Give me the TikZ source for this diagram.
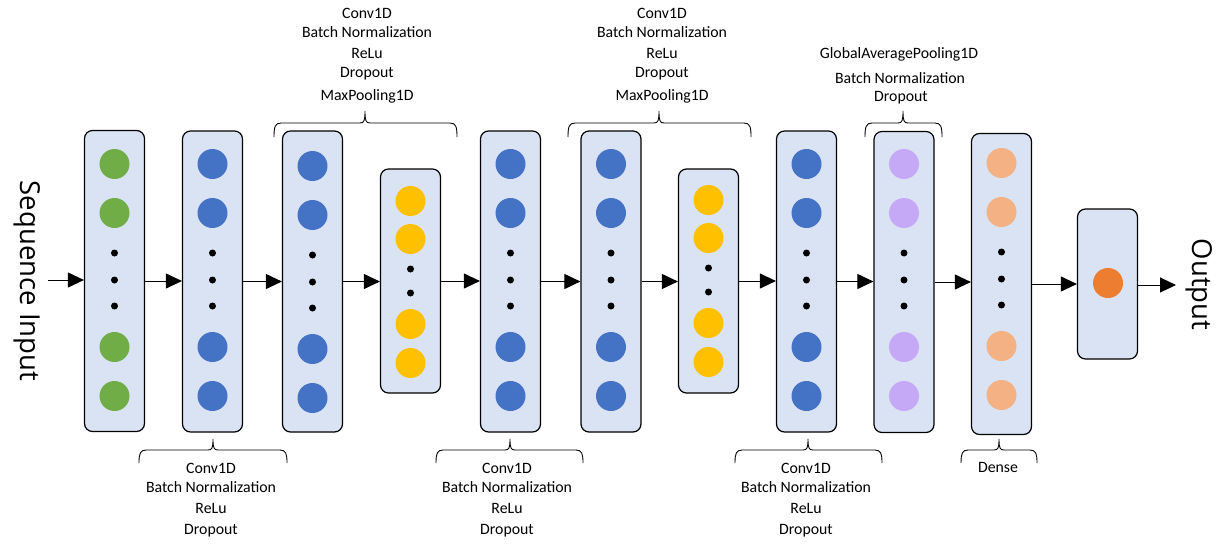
\documentclass[tikz,border=0pt]{standalone}
\usepackage{fontspec}
\setmainfont{Carlito}
\newfontfamily\bigfont{Open Sans}
\usetikzlibrary{arrows.meta,calc}
\definecolor{boxfill}{HTML}{DAE3F3}
\definecolor{cgreen}{HTML}{70AD47}
\definecolor{cblue}{HTML}{4472C4}
\definecolor{cyellow}{HTML}{FFC000}
\definecolor{cpurple}{HTML}{C5A9F6}
\definecolor{cpeach}{HTML}{F4B183}
\definecolor{corange}{HTML}{ED7D31}
\tikzset{
  layer/.style={draw=black, line width=1.2pt, fill=boxfill, rounded corners=8pt, minimum width=60pt, inner sep=0pt},
  neuron/.style={circle, minimum size=30pt, inner sep=0pt, draw=none},
  dotn/.style={circle, fill=black, minimum size=7pt, inner sep=0pt},
  arr/.style={-{Triangle[length=16pt,width=15pt]}, line width=1pt},
  brc/.style={line width=0.9pt},
  lbl/.style={anchor=base, inner sep=0pt, font=\fontsize{15.8}{18}\selectfont},
  bigl/.style={inner sep=0pt, rotate=-90, font=\bigfont\fontsize{27.5}{32}\selectfont}
}
\newcommand\biglayer[5]{%
  \node[layer, minimum height=301pt] (#1) at (#2,#3) {};
  \foreach \yy [count=\k] in {164,213,347,396} \node[neuron, fill=#4] (#1n\k) at (#2,\yy+#5) {};
  \foreach \yy [count=\k] in {253,280,306} \node[dotn] (#1d\k) at (#2,\yy+#5) {};
}
\newcommand\poollayer[4]{%
  \node[layer, minimum height=224pt] (#1) at (#2,281) {};
  \foreach \yy [count=\k] in {201,239,324,363} \node[neuron, fill=#3] (#1n\k) at (#2,\yy+#4) {};
  \foreach \yy [count=\k] in {269,293} \node[dotn] (#1d\k) at (#2,\yy+#4) {};
}
\newcommand\bracetop[3]{\draw[brc] (#1,137) .. controls (#1,127) and (#1+1,123) .. (#1+7,123) -- (#2-5,123) .. controls (#2-1,123) and (#2,121) .. (#2,111) .. controls (#2,121) and (#2+1,123) .. (#2+5,123) -- (#3-7,123) .. controls (#3-1,123) and (#3,127) .. (#3,137);}
\newcommand\bracebot[3]{\draw[brc] (#1,463) .. controls (#1,454) and (#1+1,450) .. (#1+7,450) -- (#2-5,450) .. controls (#2-1,450) and (#2,448) .. (#2,439) .. controls (#2,448) and (#2+1,450) .. (#2+5,450) -- (#3-7,450) .. controls (#3-1,450) and (#3,454) .. (#3,463);}
\begin{document}
\begin{tikzpicture}[x=1pt,y=-1pt]
\fill[white] (0,0) rectangle (1221,557);
\useasboundingbox (0,0) rectangle (1221,557);

% layers
\biglayer{B1}{114.5}{281}{cgreen}{0}
\biglayer{B2}{212.5}{281.5}{cblue}{0}
\biglayer{B3}{312.5}{281.5}{cblue}{2}
\poollayer{B4}{410.5}{cyellow}{0}
\biglayer{B5}{510.5}{281.5}{cblue}{0}
\biglayer{B6}{611}{281.5}{cblue}{0}
\poollayer{B7}{708.5}{cyellow}{-1}
\biglayer{B8}{806.5}{281.5}{cblue}{0}
\biglayer{B9}{904}{282}{cpurple}{0}
\biglayer{B10}{1001.5}{284}{cpeach}{-1}
\node[layer, minimum height=150pt] (B11) at (1107.5,284) {};
\node[neuron, fill=corange] (B11n) at (1108,283) {};

% side labels
\node[bigl] (seq) at (27.5,281) {Sequence Input};
\node[bigl] (outl) at (1199,284.5) {Output};

% arrows
\coordinate (in) at (48,280);
\coordinate (out) at (1176,285);
\draw[arr] (in) -- (in -| B1.west);
\draw[arr] (B1.east) -- (B1.east -| B2.west);
\draw[arr] (B2.east) -- (B2.east -| B3.west);
\draw[arr] (B3.east) -- (B3.east -| B4.west);
\draw[arr] (B4.east) -- (B4.east -| B5.west);
\draw[arr] (B5.east) -- (B5.east -| B6.west);
\draw[arr] (B6.east) -- (B6.east -| B7.west);
\draw[arr] (B7.east) -- (B7.east -| B8.west);
\draw[arr] (B8.east) -- (B8.east -| B9.west);
\draw[arr] (B9.east) -- (B9.east -| B10.west);
\draw[arr] (B10.east) -- (B10.east -| B11.west);
\draw[arr] (B11.east |- out) -- (out);

% braces
\bracetop{274}{365}{457}
\bracetop{568}{659}{751}
\bracetop{865}{903}{942}
\bracebot{139}{213}{287}
\bracebot{436}{510}{583}
\bracebot{735}{808}{882}
\bracebot{961}{999}{1037}

% top labels group 1
\node[lbl] (ta1) at (367,18) {Conv1D};
\node[lbl] (ta2) at (367,37) {Batch Normalization};
\node[lbl] (ta3) at (367,58) {ReLu};
\node[lbl] (ta4) at (367,77) {Dropout};
\node[lbl] (ta5) at (367,100) {MaxPooling1D};
% top labels group 2
\node[lbl] (tb1) at (662,18) {Conv1D};
\node[lbl] (tb2) at (662,37) {Batch Normalization};
\node[lbl] (tb3) at (662,58) {ReLu};
\node[lbl] (tb4) at (662,77) {Dropout};
\node[lbl] (tb5) at (662,100) {MaxPooling1D};
% top labels group 3
\node[lbl] (tc1) at (899,58) {GlobalAveragePooling1D};
\node[lbl] (tc2) at (900,83) {Batch Normalization};
\node[lbl] (tc3) at (901,101) {Dropout};

% bottom labels
\node[lbl] (ba1) at (211,473) {Conv1D};
\node[lbl] (ba2) at (211,492.5) {Batch Normalization};
\node[lbl] (ba3) at (211,513) {ReLu};
\node[lbl] (ba4) at (211,534) {Dropout};
\node[lbl] (bb1) at (507,473) {Conv1D};
\node[lbl] (bb2) at (507,492.5) {Batch Normalization};
\node[lbl] (bb3) at (507,513) {ReLu};
\node[lbl] (bb4) at (507,534) {Dropout};
\node[lbl] (bc1) at (806,473) {Conv1D};
\node[lbl] (bc2) at (806,492.5) {Batch Normalization};
\node[lbl] (bc3) at (806,513) {ReLu};
\node[lbl] (bc4) at (806,534) {Dropout};
\node[lbl] (bd1) at (998,472) {Dense};
\end{tikzpicture}
\end{document}
